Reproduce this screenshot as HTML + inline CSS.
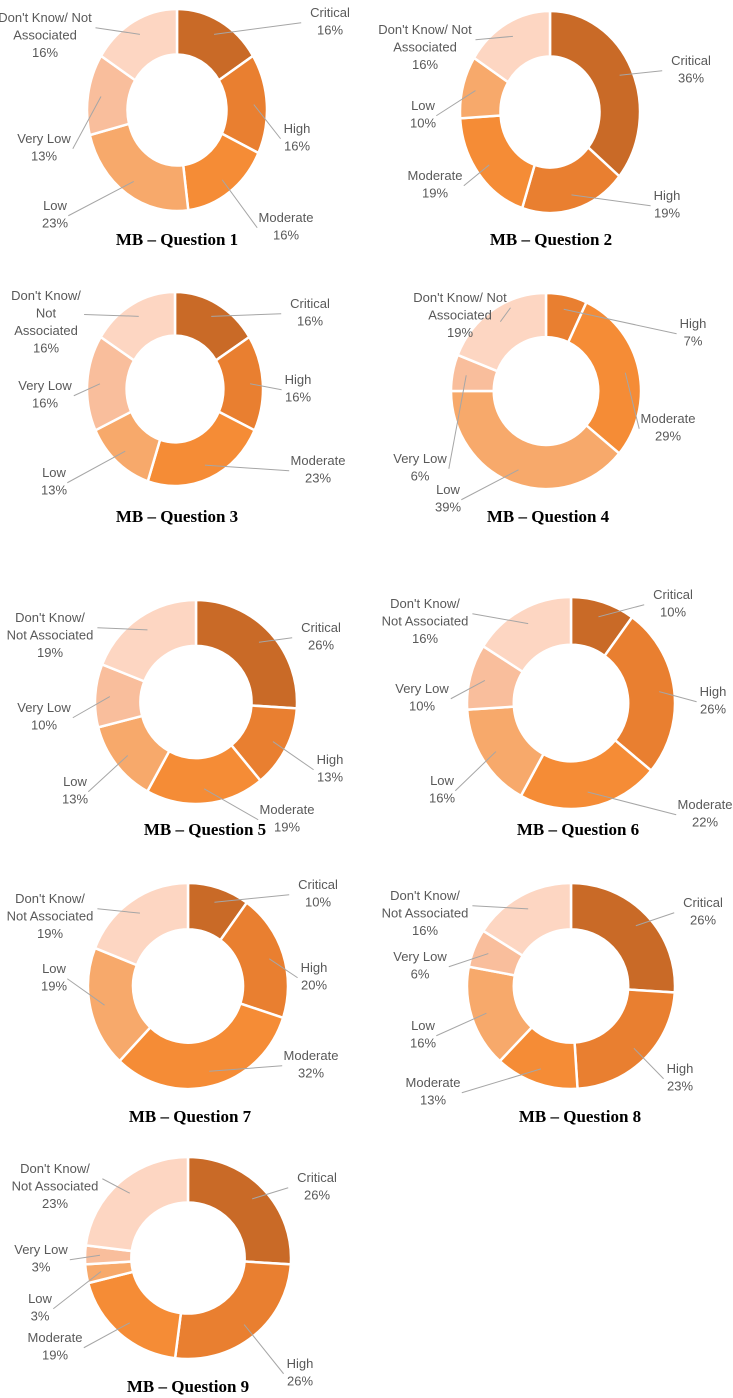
<!DOCTYPE html>
<html><head><meta charset="utf-8">
<style>
html,body{margin:0;padding:0;background:#fff;}
svg{display:block;}
.lbl{font-family:"Liberation Sans Narrow","Liberation Sans",sans-serif;font-size:13px;fill:#595959;}
.ttl{font-family:"Liberation Serif",serif;font-weight:bold;font-size:17px;fill:#000;}
</style></head>
<body>
<svg id="chart" width="733" height="1398" viewBox="0 0 733 1398" xmlns="http://www.w3.org/2000/svg"></svg>
<script>
const categories = ["Critical","High","Moderate","Low","Very Low","Don't Know/ Not Associated"];
const q1 = [16,16,16,23,13,16];
const q2 = [36,19,19,10,0,16];
const q3 = [16,16,23,13,16,16];
const q4 = [0,7,29,39,6,19];
const q5 = [26,13,19,13,10,19];
const q6 = [10,26,22,16,10,16];
const q7 = [10,20,32,19,0,19];
const q8 = [26,23,13,16,6,16];
const q9 = [26,26,19,3,3,23];
const titles = ["MB – Question 1","MB – Question 2","MB – Question 3","MB – Question 4","MB – Question 5","MB – Question 6","MB – Question 7","MB – Question 8","MB – Question 9"];

const colors = ["#C96A27","#E97F30","#F58C36","#F7A96B","#F9BE9C","#FDD6C2"];
const series = [q1,q2,q3,q4,q5,q6,q7,q8,q9];
const layout = [
 [177,110,90,101,177,241],[550,112,90,101,551,241],
 [175,389,88,97,177,518],[546,391,95,98,548,518],
 [196,702,101,102,205,831],[571,703,104,106,578,831],
 [188,986,100,103,190,1118],[571,986,104,103,580,1118],
 [188,1258,103,101,188,1388]];
const labelPos = [
 [[330,14,["Critical"]],[297,130,["High"]],[286,219,["Moderate"]],[55,207,["Low"]],[44,140,["Very Low"]],[45,19,["Don't Know/ Not","Associated"]]],
 [[691,62,["Critical"]],[667,197,["High"]],[435,177,["Moderate"]],[423,107,["Low"]],null,[425,31,["Don't Know/ Not","Associated"]]],
 [[310,305,["Critical"]],[298,381,["High"]],[318,462,["Moderate"]],[54,474,["Low"]],[45,387,["Very Low"]],[46,297,["Don't Know/","Not","Associated"]]],
 [null,[693,325,["High"]],[668,420,["Moderate"]],[448,491,["Low"]],[420,460,["Very Low"]],[460,299,["Don't Know/ Not","Associated"]]],
 [[321,629,["Critical"]],[330,761,["High"]],[287,811,["Moderate"]],[75,783,["Low"]],[44,709,["Very Low"]],[50,619,["Don't Know/","Not Associated"]]],
 [[673,596,["Critical"]],[713,693,["High"]],[705,806,["Moderate"]],[442,782,["Low"]],[422,690,["Very Low"]],[425,605,["Don't Know/","Not Associated"]]],
 [[318,886,["Critical"]],[314,969,["High"]],[311,1057,["Moderate"]],[54,970,["Low"]],null,[50,900,["Don't Know/","Not Associated"]]],
 [[703,904,["Critical"]],[680,1070,["High"]],[433,1084,["Moderate"]],[423,1027,["Low"]],[420,958,["Very Low"]],[425,897,["Don't Know/","Not Associated"]]],
 [[317,1179,["Critical"]],[300,1365,["High"]],[55,1339,["Moderate"]],[40,1300,["Low"]],[41,1251,["Very Low"]],[55,1170,["Don't Know/","Not Associated"]]]];

const NS="http://www.w3.org/2000/svg";
const svg=document.getElementById('chart');
const INNER=0.55, LH=17.5;
function pt(cx,cy,rx,ry,f,a){return [cx+rx*f*Math.sin(a), cy-ry*f*Math.cos(a)];}
function mk(tag,attrs){const e=document.createElementNS(NS,tag);for(const k in attrs)e.setAttribute(k,attrs[k]);return e;}

series.forEach((vals,ci)=>{
  const [cx,cy,rx,ry,tx,ty]=layout[ci];
  const g=mk('g',{});
  
  
  svg.appendChild(g);
  const total=vals.reduce((a,b)=>a+b,0);
  let acc=0;
  const labelsG=mk('g',{});
  vals.forEach((v,si)=>{
    const a0=acc/total*2*Math.PI; acc+=v; const a1=acc/total*2*Math.PI;
    if(v<=0) return;
    const large=(a1-a0)>Math.PI?1:0;
    const p0=pt(cx,cy,rx,ry,1,a0),p1=pt(cx,cy,rx,ry,1,a1),q1p=pt(cx,cy,rx,ry,INNER,a1),q0=pt(cx,cy,rx,ry,INNER,a0);
    const d=`M${p0[0]},${p0[1]} A${rx},${ry} 0 ${large} 1 ${p1[0]},${p1[1]} L${q1p[0]},${q1p[1]} A${rx*INNER},${ry*INNER} 0 ${large} 0 ${q0[0]},${q0[1]} Z`;
    const path=mk('path',{d:d,fill:colors[si],stroke:'#fff','stroke-width':2.5});
    
    
    g.appendChild(path);
    const lp=labelPos[ci][si];
    if(!lp) return;
    const [lx,ly,lines]=lp;
    const allLines=lines.concat([v+'%']);
    const mid=(a0+a1)/2;
    const s=pt(cx,cy,rx,ry,(1+INNER)/2+0.08,mid);
    const blockMid=ly+(allLines.length-1)*LH/2 - (allLines.length>2?LH/2:0);
    const maxLen=Math.max(...allLines.map(x=>x.length));
    const half=maxLen*3.1+4;
    const ex=lx+(lx<cx?half:-half);
    const line=mk('line',{x1:s[0],y1:s[1],x2:ex,y2:blockMid,stroke:'#a6a6a6','stroke-width':1});
    
    
    labelsG.appendChild(line);
    const t=mk('text',{x:lx,y:ly,'text-anchor':'middle','dominant-baseline':'middle',class:'lbl'});
    
    
    allLines.forEach((s2,i)=>{const ts=mk('tspan',{x:lx,y:ly+i*LH});ts.textContent=s2;t.appendChild(ts);});
    labelsG.appendChild(t);
  });
  g.appendChild(labelsG);
  const tt=mk('text',{x:tx,y:ty,'text-anchor':'middle','dominant-baseline':'middle',class:'ttl'});
  
  
  tt.textContent=titles[ci];
  g.appendChild(tt);
});
</script>
</body></html>
